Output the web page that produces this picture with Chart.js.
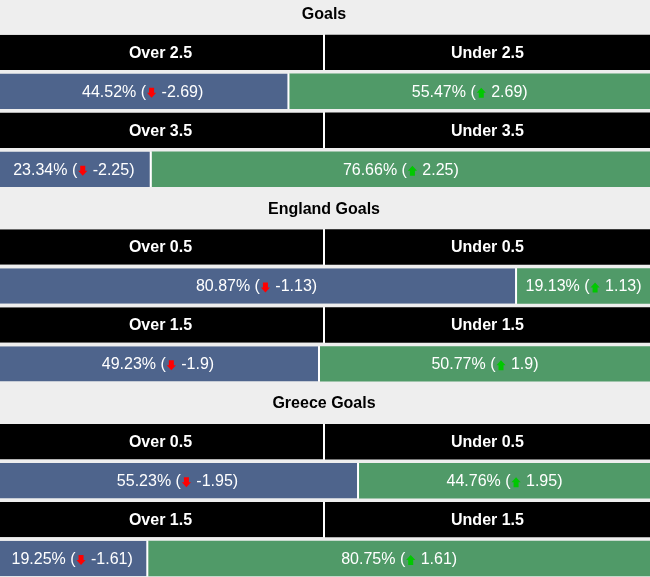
<!DOCTYPE html>
<html>
<head>
<meta charset="utf-8">
<script src="https://cdn.jsdelivr.net/npm/chart.js@4"></script>
<style>
body{margin:0;background:#eeeeee;overflow:hidden}
#wrap{position:absolute;left:0;top:-6px;width:650px;height:584px}
</style>
</head>
<body>
<div id="wrap"><canvas id="c"></canvas></div>
<script>
// values
const groups=["Goals","England Goals","Greece Goals"];
const lines=[["2.5","3.5"],["0.5","1.5"],["0.5","1.5"]];
const overPct=[44.52,23.34,80.87,49.23,55.23,19.25];
const underPct=[55.47,76.66,19.13,50.77,44.76,80.75];
const overChange=[-2.69,-2.25,-1.13,-1.9,-1.95,-1.61];
const underChange=[2.69,2.25,1.13,1.9,1.95,1.61];

const FONT_LABEL='16px "Liberation Sans", Arial, sans-serif';
const FONT_BOLD='bold 16px "Liberation Sans", Arial, sans-serif';
const BLUE='#4e648c', GREEN='#509a68';
const ARROW_SLOT=11;

// rows: title, header, bar, header, bar for each group
let rows=[];
groups.forEach((name,g)=>{
rows.push({type:"title",g});
lines[g].forEach((ln,j)=>{
rows.push({type:"head",g,j});
rows.push({type:"bar",g,j});
});
});

function parts(pct,chg){
return [pct.toFixed(2)+"% (", " "+chg+")"];
}

let meas=document.createElement("canvas").getContext("2d");
meas.font=FONT_LABEL;
function labelWidth(pct,chg){
let p=parts(pct,chg);
return meas.measureText(p[0]).width+ARROW_SLOT+meas.measureText(p[1]).width;
}

// cells can't get narrower than their text (like the flex layout of the original)
function shares(i){
let W=650;
let o=overPct[i], u=underPct[i];
let a=o/(o+u)*W, b=W-a;
let minA=labelWidth(o,overChange[i])+27;
let minB=labelWidth(u,underChange[i])+17;
if(a<minA){a=minA;b=W-a;}
else if(b<minB){b=minB;a=W-b;}
return [a/W*100,b/W*100];
}

let overData=[],underData=[],overColors=[],underColors=[];
rows.forEach(r=>{
if(r.type=="title"){
overData.push(null);underData.push(null);
overColors.push(BLUE);underColors.push(GREEN);
}else if(r.type=="head"){
overData.push(50);underData.push(50);
overColors.push("#000000");underColors.push("#000000");
}else{
let s=shares(r.g*2+r.j);
overData.push(s[0]);underData.push(s[1]);
overColors.push(BLUE);underColors.push(GREEN);
}
});

function drawArrow(ctx,x,y,up,color){
let d=up?-1:1;
ctx.save();
ctx.fillStyle=color;
ctx.beginPath();
ctx.moveTo(x,y+5*d);
ctx.lineTo(x+4.6,y);
ctx.lineTo(x+2.5,y);
ctx.lineTo(x+2.5,y-5*d);
ctx.lineTo(x-2.5,y-5*d);
ctx.lineTo(x-2.5,y);
ctx.lineTo(x-4.6,y);
ctx.closePath();
ctx.fill();
ctx.restore();
}

function drawLabel(ctx,cx,cy,pct,chg,up){
let p=parts(pct,chg);
ctx.font=FONT_LABEL;
let w0=ctx.measureText(p[0]).width, w1=ctx.measureText(p[1]).width;
let x=cx-(w0+ARROW_SLOT+w1)/2;
ctx.fillStyle="#ffffff";
ctx.textAlign="left";
ctx.fillText(p[0],x,cy+1);
drawArrow(ctx,x+w0+ARROW_SLOT/2,cy+1.5,up,up?"#00c800":"#ff0000");
ctx.fillText(p[1],x+w0+ARROW_SLOT,cy+1);
}

const textPlugin={
id:"texts",
afterDatasetsDraw(chart){
let ctx=chart.ctx;
let over=chart.getDatasetMeta(0).data, under=chart.getDatasetMeta(1).data;
ctx.save();
ctx.textBaseline="middle";
rows.forEach((r,i)=>{
let y=chart.scales.y.getPixelForValue(i);
if(r.type=="title"){
ctx.font=FONT_BOLD;
ctx.fillStyle="#000000";
ctx.textAlign="center";
ctx.fillText(groups[r.g],chart.width/2-1,y+1);
}else if(r.type=="head"){
ctx.font=FONT_BOLD;
ctx.fillStyle="#ffffff";
ctx.textAlign="center";
let ln=lines[r.g][r.j];
ctx.fillText("Over "+ln,(over[i].base+over[i].x)/2-2,y+1);
ctx.fillText("Under "+ln,(under[i].base+under[i].x)/2,y+1);
}else{
let k=r.g*2+r.j;
drawLabel(ctx,(over[i].base+over[i].x)/2-2,y,overPct[k],overChange[k],false);
drawLabel(ctx,(under[i].base+under[i].x)/2,y,underPct[k],underChange[k],true);
}
});
ctx.restore();
}
};

new Chart(document.getElementById("c"),{
type:"bar",
data:{
labels:rows.map((r,i)=>r.type+i),
datasets:[
{data:overData,backgroundColor:overColors,borderColor:"#ffffff",borderSkipped:false,
borderWidth:{left:0,right:2,top:0,bottom:0},barPercentage:0.91,categoryPercentage:1},
{data:underData,backgroundColor:underColors,borderWidth:0,barPercentage:0.91,categoryPercentage:1}
]
},
options:{
indexAxis:"y",
responsive:true,
maintainAspectRatio:false,
animation:false,
layout:{padding:0},
scales:{
x:{stacked:true,min:0,max:100,display:false},
y:{stacked:true,display:false}
},
plugins:{legend:{display:false},tooltip:{enabled:false}}
},
plugins:[textPlugin]
});
</script>
</body>
</html>
